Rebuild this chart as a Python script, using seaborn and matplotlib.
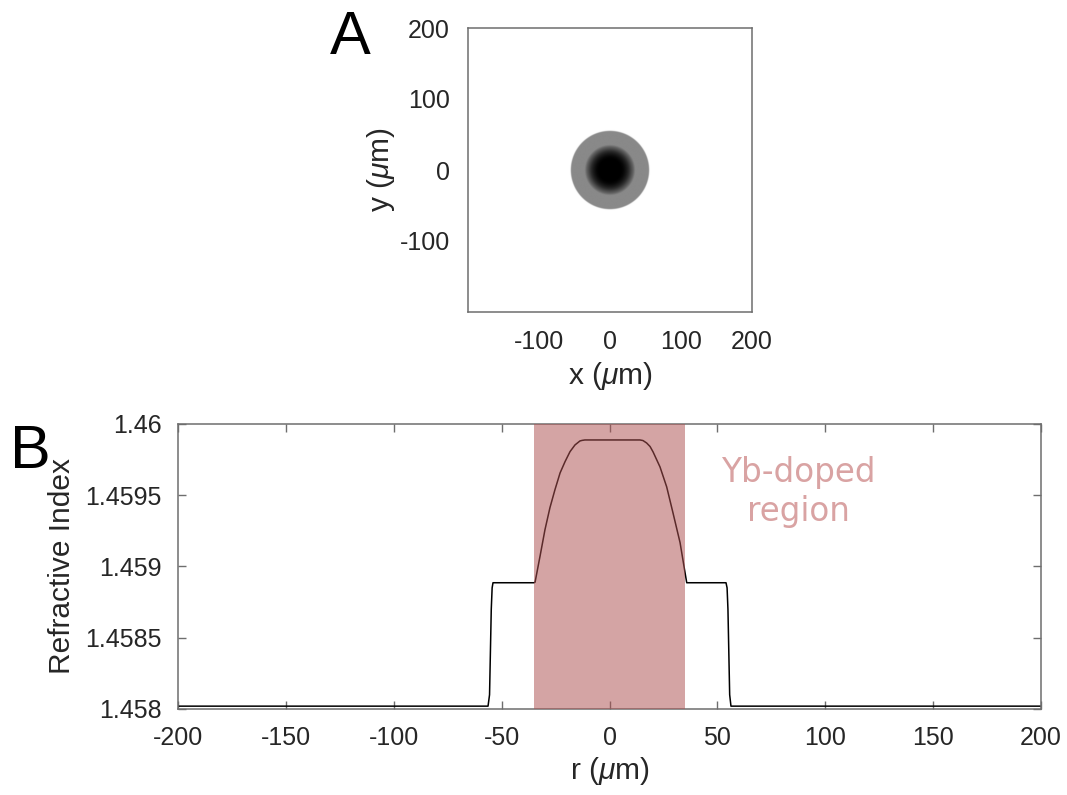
import numpy as np
import pandas as pd
import matplotlib
matplotlib.use("Agg")
import matplotlib.pyplot as plt
import seaborn as sns

# Radial refractive-index profile of the fibre (r in micrometres)
r_um = [-200, -56.3, -55.6, -55.2, -54.8, -54.4, -54.0, -35.0, -34.5, -32.2, -29.9,
        -27.6, -25.3, -22.9, -20.6, -18.3, -16.0, -14.6, -13.7, -12.7, -11.4, 0.0,
        14.1, 15.5, 17.2, 18.8, 20.2, 23.4, 26.5, 29.4, 32.7, 35.0, 35.8, 54.0,
        54.5, 54.9, 55.3, 55.7, 56.3, 200]
n_index = [1.45802, 1.45802, 1.45810, 1.45840, 1.45870, 1.45885, 1.458886, 1.458886,
           1.458890, 1.459072, 1.459259, 1.459413, 1.459538, 1.459657, 1.459736,
           1.459806, 1.459853, 1.459870, 1.459881, 1.459885, 1.459888, 1.459888,
           1.459888, 1.459884, 1.459867, 1.459842, 1.459804, 1.459699, 1.459559,
           1.459378, 1.459168, 1.458958, 1.458886, 1.458886, 1.45885, 1.45870,
           1.45840, 1.45810, 1.45802, 1.45802]

doped_region = [-35, 35]
ticks_a = [-100, 0, 100, 200]
ticks_bx = [-200, -150, -100, -50, 0, 50, 100, 150, 200]
ticks_by = [1.458, 1.4585, 1.459, 1.4595, 1.46]
ticklabels_by = ["1.458", "1.4585", "1.459", "1.4595", "1.46"]

sns.set_theme(style="white")
plt.rcParams["font.family"] = ["Liberation Sans", "DejaVu Sans"]
plt.rcParams["axes.unicode_minus"] = False
plt.rcParams["mathtext.fontset"] = "custom"
plt.rcParams["mathtext.it"] = "Liberation Sans:italic"
plt.rcParams["mathtext.rm"] = "Liberation Sans"

W, H = 1067, 795
fig = plt.figure(figsize=(W / 100, H / 100), dpi=100)
fig.patch.set_facecolor("white")

edge = "#6e6e6e"
txt = "#262626"
fs = 18
fl = 21.5

# ---- Panel A: cross-section map built from the radial profile ----
axA = fig.add_axes([468 / W, 1 - 313 / H, 284 / W, 286 / H])
grid = np.linspace(-200, 200, 801)
gx, gy = np.meshgrid(grid, grid)
rad = np.hypot(gx, gy)
r_arr = np.array(r_um)
n_arr = np.array(n_index)
mask = r_arr >= 0
order = np.argsort(r_arr[mask])
nmap = np.interp(rad, r_arr[mask][order], n_arr[mask][order])
axA.imshow(nmap, cmap="gray_r", vmin=min(n_index), vmax=max(n_index),
           extent=[-200, 200, -200, 200], origin="lower", interpolation="bilinear")
axA.set_xlim(-200, 200)
axA.set_ylim(-200, 200)
axA.set_xticks(ticks_a)
axA.set_yticks(ticks_a)
axA.tick_params(length=0, labelsize=fs, colors=txt, pad=13)
axA.set_xlabel(r"x ($\mu$m)", fontsize=fl, color=txt, labelpad=4)
axA.set_ylabel(r"y ($\mu$m)", fontsize=fl, color=txt, labelpad=2)
for s in axA.spines.values():
    s.set_color(edge)
    s.set_linewidth(1.1)

# ---- Panel B: radial index profile ----
axB = fig.add_axes([178 / W, 1 - 709 / H, 863 / W, 285 / H])
df = pd.DataFrame({"r": r_um, "n": n_index})
sns.lineplot(data=df, x="r", y="n", ax=axB, color="black", linewidth=1.1,
             sort=False, zorder=2)
axB.axvspan(doped_region[0], doped_region[1], color="#ad5151", alpha=0.52,
            linewidth=0, zorder=3)
axB.text(87.4, 1.459523, "Yb-doped\nregion", fontsize=23.5, color="#d9a3a3",
         ha="center", va="center", family="DejaVu Sans", linespacing=1.2)
axB.set_xlim(-200, 200)
axB.set_ylim(1.458, 1.46)
axB.set_xticks(ticks_bx)
axB.set_xticklabels([str(t) for t in ticks_bx])
axB.set_yticks(ticks_by)
axB.set_yticklabels(ticklabels_by)
axB.tick_params(direction="in", length=6, width=1.0, color=edge, labelsize=fs,
                labelcolor=txt, top=True, right=True, bottom=True, left=True, pad=12)
axB.set_xlabel(r"r ($\mu$m)", fontsize=fl, color=txt, labelpad=4)
axB.set_ylabel("Refractive Index", fontsize=fl, color=txt, labelpad=6)
for s in axB.spines.values():
    s.set_color(edge)
    s.set_linewidth(1.1)

# Panel letters
fig.text(350 / W, 1 - 38 / H, "A", fontsize=44, ha="center", va="center", color="black")
fig.text(30 / W, 1 - 452 / H, "B", fontsize=44, ha="center", va="center", color="black")

fig.savefig("out.png", dpi=100, facecolor="white")
